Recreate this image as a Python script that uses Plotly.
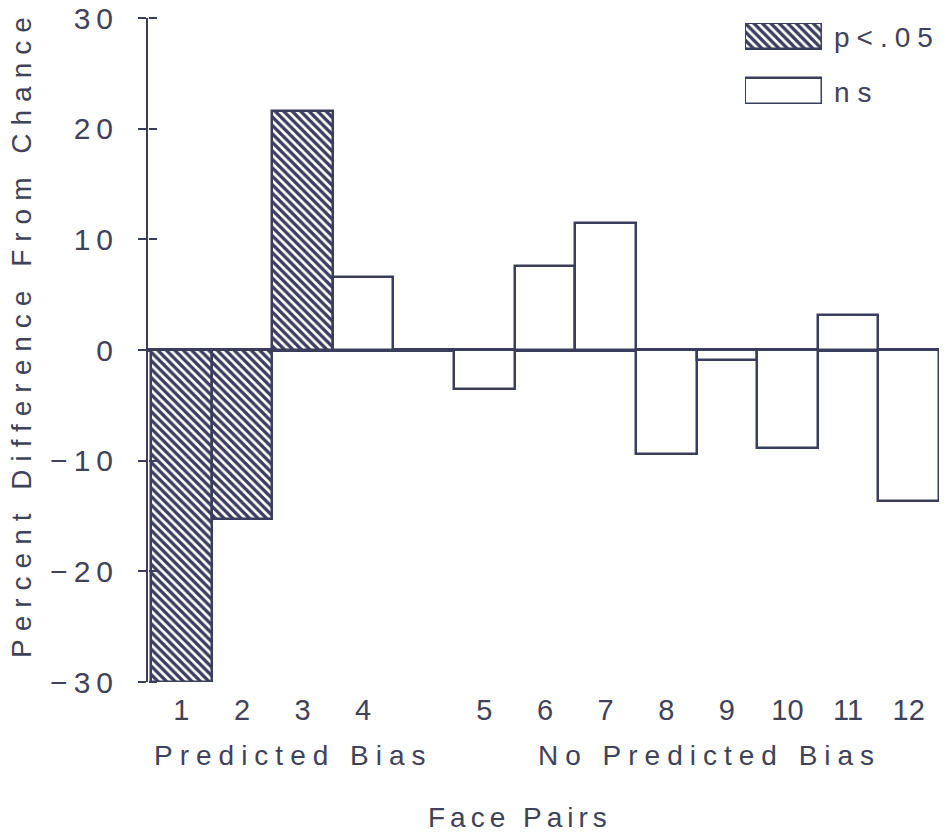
import plotly.graph_objects as go

# ---- data ----
face_pairs = [1, 2, 3, 4, 5, 6, 7, 8, 9, 10, 11, 12]
slot_positions = [1, 2, 3, 4, 6, 7, 8, 9, 10, 11, 12, 13]
pct_diff = [-30.0, -15.3, 21.6, 6.6, -3.5, 7.6, 11.5, -9.4, -0.9, -8.9, 3.2, -13.6]
significant = [True, True, True, False, False, False, False, False, False, False, False, False]
y_ticks = [30, 20, 10, 0, -10, -20, -30]
y_tick_labels = ["30", "20", "10", "0", "−10", "−20", "−30"]
group_labels = ["Predicted Bias", "No Predicted Bias"]
legend_labels = ["p<.05", "ns"]

INK = "#3a3d5c"
TXT = "#3f4259"
FONT = "Liberation Sans, Arial, sans-serif"

W, H = 951, 835
ML, MR, MT, MB = 148, 12, 18, 153
PW, PH = W - ML - MR, H - MT - MB


def spaced(s, px):
    return f'<span style="letter-spacing:{px}px">{s}</span>'


def px_x(px):
    return (px - ML) / PW


def px_y(py):
    return (H - MB - py) / PH


sig_x = [p for p, s in zip(slot_positions, significant) if s]
sig_y = [v for v, s in zip(pct_diff, significant) if s]
ns_x = [p for p, s in zip(slot_positions, significant) if not s]
ns_y = [v for v, s in zip(pct_diff, significant) if not s]

hatch = dict(shape="\\", fgcolor=INK, bgcolor="white", size=6, solidity=0.55)

fig = go.Figure()

fig.add_trace(go.Bar(
    x=sig_x, y=sig_y, width=1.0,
    marker=dict(color="white", line=dict(color=INK, width=2.5), pattern=hatch),
    showlegend=False, hoverinfo="skip"))
fig.add_trace(go.Bar(
    x=ns_x, y=ns_y, width=1.0,
    marker=dict(color="white", line=dict(color=INK, width=2.5)),
    showlegend=False, hoverinfo="skip"))

# invisible copy of the data on an overlaid axis that draws the right half of the tick marks
fig.add_trace(go.Scatter(x=slot_positions, y=pct_diff, xaxis="x", yaxis="y3", mode="markers",
                         marker=dict(opacity=0), showlegend=False, hoverinfo="skip"))

# legend swatches drawn as bars on a small inset axis
fig.add_trace(go.Bar(
    x=[1], y=[1], orientation="h", width=0.46, xaxis="x2", yaxis="y2",
    marker=dict(color="white", line=dict(color=INK, width=2.5), pattern=hatch),
    showlegend=False, hoverinfo="skip"))
fig.add_trace(go.Bar(
    x=[1], y=[0], orientation="h", width=0.46, xaxis="x2", yaxis="y2",
    marker=dict(color="white", line=dict(color=INK, width=2.5)),
    showlegend=False, hoverinfo="skip"))

fig.update_layout(
    template="none",
    width=W, height=H,
    margin=dict(l=ML, r=MR, t=MT, b=MB, pad=0),
    paper_bgcolor="white", plot_bgcolor="white",
    bargap=0, barmode="overlay",
    font=dict(family=FONT, color=TXT),
    xaxis=dict(
        range=[0.45, 13.5], showgrid=False, zeroline=False, showline=False, automargin=False,
        tickmode="array", tickvals=slot_positions, ticktext=[str(f) for f in face_pairs],
        ticks="", ticklabelstandoff=8,
        tickfont=dict(family=FONT, size=29, color=TXT),
    ),
    yaxis=dict(
        range=[-30, 30], showgrid=False, automargin=False,
        zeroline=True, zerolinecolor=INK, zerolinewidth=4,
        showline=True, linecolor=INK, linewidth=2,
        tickmode="array", tickvals=y_ticks,
        ticktext=[spaced(t, 6) for t in y_tick_labels],
        ticks="outside", ticklen=8, tickwidth=2, tickcolor=INK,
        ticklabelstandoff=13,
        tickfont=dict(family=FONT, size=30, color=TXT),
        layer="above traces",
    ),
    yaxis3=dict(
        range=[-30, 30], overlaying="y", anchor="free", position=0, side="right", automargin=False,
        showgrid=False, zeroline=False, showline=False, showticklabels=False,
        tickmode="array", tickvals=y_ticks,
        ticks="outside", ticklen=8, tickwidth=2, tickcolor=INK,
        layer="above traces",
    ),
    xaxis2=dict(domain=[px_x(745), px_x(822)], range=[0, 1], anchor="y2", visible=False, fixedrange=True),
    yaxis2=dict(domain=[px_y(104), px_y(23)], range=[-0.23, 1.23], anchor="x2", visible=False, fixedrange=True),
)

# legend texts
fig.add_annotation(x=px_x(832), y=px_y(37), xref="paper", yref="paper", xanchor="left", yanchor="middle",
                   text=spaced(legend_labels[0], 7), showarrow=False, font=dict(size=28, color=TXT))
fig.add_annotation(x=px_x(832), y=px_y(92), xref="paper", yref="paper", xanchor="left", yanchor="middle",
                   text=spaced(legend_labels[1], 8), showarrow=False, font=dict(size=28, color=TXT))

# group labels under the tick numbers
fig.add_annotation(x=px_x(293), y=px_y(755), xref="paper", yref="paper", xanchor="center", yanchor="middle",
                   text=spaced(group_labels[0], 7), showarrow=False, font=dict(size=28, color=TXT))
fig.add_annotation(x=px_x(709), y=px_y(755), xref="paper", yref="paper", xanchor="center", yanchor="middle",
                   text=spaced(group_labels[1], 7), showarrow=False, font=dict(size=28, color=TXT))

# axis titles
fig.add_annotation(x=px_x(520), y=px_y(818), xref="paper", yref="paper", xanchor="center", yanchor="middle",
                   text=spaced("Face Pairs", 5), showarrow=False, font=dict(size=28, color=TXT))
fig.add_annotation(x=px_x(21), y=px_y(334), xref="paper", yref="paper",
                   xanchor="center", yanchor="middle", textangle=-90,
                   text=spaced("Percent Difference From Chance", 8), showarrow=False,
                   font=dict(size=28, color=TXT))

fig.write_html("out.html", config={"displayModeBar": False},
               post_script="document.body.style.margin='0px';")
